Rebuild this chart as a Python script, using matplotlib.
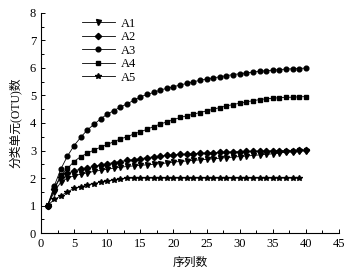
import matplotlib
matplotlib.use("Agg")
import matplotlib.pyplot as plt
from matplotlib.ticker import MultipleLocator

x = list(range(1, 41))
a1 = [1.0, 1.5, 1.85, 2.0, 2.08, 2.14, 2.19, 2.24, 2.28, 2.32, 2.36, 2.39, 2.42, 2.44, 2.46, 2.48, 2.5, 2.52, 2.55, 2.58,
      2.6, 2.62, 2.64, 2.66, 2.68, 2.7, 2.72, 2.74, 2.76, 2.78, 2.8, 2.82, 2.84, 2.86, 2.88, 2.91, 2.94, 2.96, 2.98, 3.0]
a2 = [1.0, 1.6, 2.05, 2.17, 2.26, 2.32, 2.37, 2.42, 2.47, 2.52, 2.56, 2.6, 2.64, 2.67, 2.7, 2.74, 2.77, 2.8, 2.82, 2.84,
      2.86, 2.87, 2.88, 2.9, 2.91, 2.92, 2.93, 2.94, 2.95, 2.96, 2.97, 2.97, 2.98, 2.98, 2.99, 2.99, 3.0, 3.0, 3.01, 3.02]
a3 = [1.0, 1.71, 2.33, 2.8, 3.18, 3.48, 3.75, 3.95, 4.15, 4.32, 4.45, 4.58, 4.7, 4.82, 4.95, 5.04, 5.11, 5.2, 5.26, 5.32,
      5.38, 5.44, 5.5, 5.55, 5.6, 5.64, 5.68, 5.72, 5.76, 5.79, 5.82, 5.85, 5.88, 5.9, 5.92, 5.94, 5.96, 5.97, 5.98, 6.0]
a4 = [1.0, 1.62, 2.1, 2.35, 2.6, 2.78, 2.9, 3.02, 3.12, 3.22, 3.32, 3.42, 3.5, 3.6, 3.68, 3.77, 3.87, 3.96, 4.04, 4.12,
      4.2, 4.26, 4.32, 4.38, 4.44, 4.5, 4.56, 4.62, 4.67, 4.72, 4.77, 4.81, 4.85, 4.88, 4.9, 4.92, 4.93, 4.94, 4.95, 4.96]
x5 = list(range(1, 40))
a5 = [1.0, 1.22, 1.35, 1.5, 1.62, 1.68, 1.75, 1.8, 1.85, 1.89, 1.93, 1.96, 1.99, 2.0, 2.0, 2.0, 2.0, 2.0, 2.0, 2.0,
      2.0, 2.0, 2.0, 2.0, 2.0, 2.0, 2.0, 2.0, 2.0, 2.0, 2.0, 2.0, 2.0, 2.0, 2.0, 2.0, 2.0, 2.0, 2.0]

series = [("A1", x, a1, "v"), ("A2", x, a2, "D"), ("A3", x, a3, "o"), ("A4", x, a4, "s"), ("A5", x5, a5, "*")]
sizes = {"v": 3.6, "D": 3.2, "o": 3.4, "s": 3.2, "*": 4.2}

plt.rcParams["font.family"] = ["Liberation Serif", "Noto Sans CJK SC"]

fig = plt.figure(figsize=(3.61, 2.74), dpi=100)
ax = fig.add_axes([0.1136, 0.1496, 0.8254, 0.803])

for name, xs, ys, m in series:
    ax.plot(xs, ys, color="black", lw=0.6, marker=m, ms=sizes[m], label=name)

ax.set_xlim(0, 45)
ax.set_ylim(0, 8)
ax.xaxis.set_major_locator(MultipleLocator(5))
ax.xaxis.set_minor_locator(MultipleLocator(2.5))
ax.yaxis.set_major_locator(MultipleLocator(1))
ax.yaxis.set_minor_locator(MultipleLocator(0.5))
ax.spines["top"].set_visible(False)
ax.spines["right"].set_visible(False)
ax.tick_params(direction="in", labelsize=9, length=3, width=0.7)
ax.tick_params(which="minor", direction="in", length=2, width=0.7)

ax.set_xlabel("序列数", family="Noto Sans CJK SC", fontsize=8.5, labelpad=4)
ax.set_ylabel("分类单元(OTU)数", family=["Liberation Serif", "Noto Sans CJK SC"], fontsize=8.5, labelpad=6)

ax.legend(loc="upper left", bbox_to_anchor=(0.1, 1.03), frameon=False, fontsize=9,
          handlelength=2.6, labelspacing=0.12, handletextpad=0.5)

fig.savefig("out.png", dpi=100)
